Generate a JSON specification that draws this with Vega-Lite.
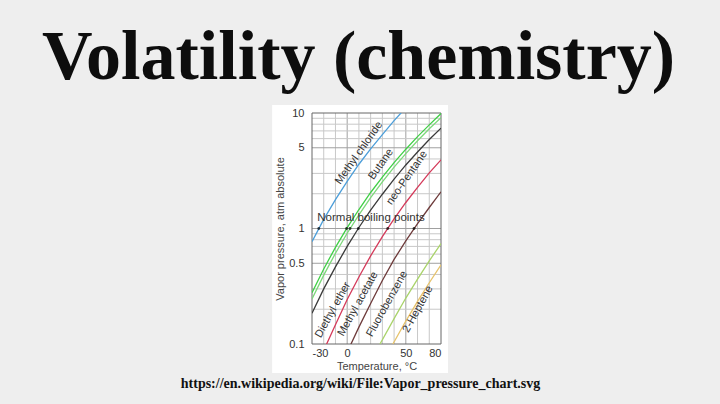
{
  "$schema": "https://vega.github.io/schema/vega-lite/v6.json",
  "width": 129,
  "height": 231,
  "autosize": {"type": "none"},
  "padding": {"left": 312, "top": 113, "right": 279, "bottom": 60},
  "background": "#eeeeee",
  "config": {"view": {"stroke": null}, "font": "Liberation Sans"},
  "title": {
    "text": "Volatility (chemistry)",
    "font": "Liberation Serif",
    "fontSize": 70,
    "fontWeight": "bold",
    "color": "#0d0d0d",
    "anchor": "middle",
    "frame": "group",
    "dx": -18,
    "offset": 11
  },
  "datasets": {
    "curves": [
      {"name": "Methyl chloride", "T": -30, "P": 0.77},
      {"name": "Methyl chloride", "T": -20, "P": 1.2},
      {"name": "Methyl chloride", "T": -10, "P": 1.78},
      {"name": "Methyl chloride", "T": 0, "P": 2.56},
      {"name": "Methyl chloride", "T": 10, "P": 3.6},
      {"name": "Methyl chloride", "T": 20, "P": 4.9},
      {"name": "Methyl chloride", "T": 30, "P": 6.5},
      {"name": "Methyl chloride", "T": 40, "P": 8.6},
      {"name": "Methyl chloride", "T": 50, "P": 11.1},
      {"name": "Butane", "T": -30, "P": 0.278},
      {"name": "Butane", "T": -20, "P": 0.446},
      {"name": "Butane", "T": -10, "P": 0.687},
      {"name": "Butane", "T": 0, "P": 1.018},
      {"name": "Butane", "T": 10, "P": 1.46},
      {"name": "Butane", "T": 20, "P": 2.05},
      {"name": "Butane", "T": 30, "P": 2.79},
      {"name": "Butane", "T": 40, "P": 3.72},
      {"name": "Butane", "T": 50, "P": 4.86},
      {"name": "Butane", "T": 60, "P": 6.24},
      {"name": "Butane", "T": 70, "P": 7.89},
      {"name": "Butane", "T": 80, "P": 9.9},
      {"name": "Butane 2", "T": -30, "P": 0.245},
      {"name": "Butane 2", "T": -20, "P": 0.395},
      {"name": "Butane 2", "T": -10, "P": 0.61},
      {"name": "Butane 2", "T": 0, "P": 0.91},
      {"name": "Butane 2", "T": 10, "P": 1.31},
      {"name": "Butane 2", "T": 20, "P": 1.85},
      {"name": "Butane 2", "T": 30, "P": 2.53},
      {"name": "Butane 2", "T": 40, "P": 3.4},
      {"name": "Butane 2", "T": 50, "P": 4.45},
      {"name": "Butane 2", "T": 60, "P": 5.75},
      {"name": "Butane 2", "T": 70, "P": 7.3},
      {"name": "Butane 2", "T": 80, "P": 9.1},
      {"name": "neo-Pentane", "T": -30, "P": 0.185},
      {"name": "neo-Pentane", "T": -20, "P": 0.3},
      {"name": "neo-Pentane", "T": -10, "P": 0.465},
      {"name": "neo-Pentane", "T": 0, "P": 0.7},
      {"name": "neo-Pentane", "T": 10, "P": 1.02},
      {"name": "neo-Pentane", "T": 20, "P": 1.44},
      {"name": "neo-Pentane", "T": 30, "P": 1.98},
      {"name": "neo-Pentane", "T": 40, "P": 2.68},
      {"name": "neo-Pentane", "T": 50, "P": 3.55},
      {"name": "neo-Pentane", "T": 60, "P": 4.6},
      {"name": "neo-Pentane", "T": 70, "P": 5.9},
      {"name": "neo-Pentane", "T": 80, "P": 7.4},
      {"name": "Diethyl ether", "T": -25, "P": 0.065},
      {"name": "Diethyl ether", "T": -20, "P": 0.088},
      {"name": "Diethyl ether", "T": -10, "P": 0.147},
      {"name": "Diethyl ether", "T": 0, "P": 0.243},
      {"name": "Diethyl ether", "T": 10, "P": 0.38},
      {"name": "Diethyl ether", "T": 20, "P": 0.58},
      {"name": "Diethyl ether", "T": 30, "P": 0.85},
      {"name": "Diethyl ether", "T": 40, "P": 1.21},
      {"name": "Diethyl ether", "T": 50, "P": 1.68},
      {"name": "Diethyl ether", "T": 60, "P": 2.27},
      {"name": "Diethyl ether", "T": 70, "P": 3.03},
      {"name": "Diethyl ether", "T": 80, "P": 3.93},
      {"name": "Methyl acetate", "T": -5, "P": 0.063},
      {"name": "Methyl acetate", "T": 0, "P": 0.085},
      {"name": "Methyl acetate", "T": 10, "P": 0.14},
      {"name": "Methyl acetate", "T": 20, "P": 0.224},
      {"name": "Methyl acetate", "T": 30, "P": 0.355},
      {"name": "Methyl acetate", "T": 40, "P": 0.54},
      {"name": "Methyl acetate", "T": 50, "P": 0.78},
      {"name": "Methyl acetate", "T": 60, "P": 1.1},
      {"name": "Methyl acetate", "T": 70, "P": 1.52},
      {"name": "Methyl acetate", "T": 80, "P": 2.08},
      {"name": "Fluorobenzene", "T": 20, "P": 0.072},
      {"name": "Fluorobenzene", "T": 28, "P": 0.1},
      {"name": "Fluorobenzene", "T": 40, "P": 0.166},
      {"name": "Fluorobenzene", "T": 50, "P": 0.25},
      {"name": "Fluorobenzene", "T": 60, "P": 0.365},
      {"name": "Fluorobenzene", "T": 70, "P": 0.525},
      {"name": "Fluorobenzene", "T": 80, "P": 0.74},
      {"name": "2-Heptene", "T": 30, "P": 0.064},
      {"name": "2-Heptene", "T": 39, "P": 0.1},
      {"name": "2-Heptene", "T": 50, "P": 0.158},
      {"name": "2-Heptene", "T": 60, "P": 0.234},
      {"name": "2-Heptene", "T": 70, "P": 0.339},
      {"name": "2-Heptene", "T": 80, "P": 0.485}
    ],
    "boiling": [
      {"name": "Methyl chloride", "T": -24.2, "P": 1},
      {"name": "Butane", "T": -0.5, "P": 1},
      {"name": "Butane 2", "T": 2.4, "P": 1},
      {"name": "neo-Pentane", "T": 9.5, "P": 1},
      {"name": "Diethyl ether", "T": 34.6, "P": 1},
      {"name": "Methyl acetate", "T": 57, "P": 1}
    ],
    "labels": [
      {"name": "Methyl chloride", "T": 10.1, "P": 4.5, "group": "upper"},
      {"name": "Butane", "T": 28.8, "P": 3.6, "group": "upper"},
      {"name": "neo-Pentane", "T": 51, "P": 2.74, "group": "upper"},
      {"name": "Diethyl ether", "T": -12.1, "P": 0.197, "group": "lower"},
      {"name": "Methyl acetate", "T": 9.2, "P": 0.222, "group": "lower"},
      {"name": "Fluorobenzene", "T": 34, "P": 0.222, "group": "lower"},
      {"name": "2-Heptene", "T": 60.4, "P": 0.2, "group": "lower"}
    ],
    "gridT": [
      {"T": -20, "major": false}, {"T": -10, "major": false}, {"T": 0, "major": true},
      {"T": 10, "major": false}, {"T": 20, "major": false}, {"T": 30, "major": false},
      {"T": 40, "major": false}, {"T": 50, "major": true}, {"T": 60, "major": false},
      {"T": 70, "major": false}
    ],
    "gridP": [
      {"P": 0.2, "major": false}, {"P": 0.3, "major": false}, {"P": 0.4, "major": false},
      {"P": 0.5, "major": true}, {"P": 0.6, "major": false}, {"P": 0.7, "major": false},
      {"P": 0.8, "major": false}, {"P": 0.9, "major": false}, {"P": 1, "major": true},
      {"P": 2, "major": false}, {"P": 3, "major": false}, {"P": 4, "major": false},
      {"P": 5, "major": true}, {"P": 6, "major": false}, {"P": 7, "major": false},
      {"P": 8, "major": false}, {"P": 9, "major": false}
    ]
  },
  "layer": [
    {
      "data": {"values": [{}]},
      "mark": {"type": "rect", "color": "#ffffff"},
      "encoding": {
        "x": {"datum": -64, "type": "quantitative", "scale": {"domain": [-30, 80], "nice": false, "zero": false}},
        "x2": {"datum": 86},
        "y": {"datum": 0.056, "type": "quantitative", "scale": {"type": "log", "domain": [0.1, 10], "nice": false}},
        "y2": {"datum": 11.7}
      }
    },
    {
      "data": {"name": "gridT"},
      "mark": {"type": "rule", "strokeWidth": 1},
      "encoding": {
        "x": {"field": "T", "type": "quantitative", "scale": {"domain": [-30, 80], "nice": false, "zero": false}},
        "color": {"condition": {"test": "datum.major", "value": "#a0a0a0"}, "value": "#c8c8c8"}
      }
    },
    {
      "data": {"name": "gridP"},
      "mark": {"type": "rule", "strokeWidth": 1},
      "encoding": {
        "y": {"field": "P", "type": "quantitative", "scale": {"type": "log", "domain": [0.1, 10], "nice": false}},
        "color": {"condition": {"test": "datum.major", "value": "#a0a0a0"}, "value": "#c8c8c8"}
      }
    },
    {
      "data": {"values": [{}]},
      "mark": {"type": "rect", "fill": null, "stroke": "#666666", "strokeWidth": 1},
      "encoding": {
        "x": {"datum": -30, "type": "quantitative", "scale": {"domain": [-30, 80], "nice": false, "zero": false}},
        "x2": {"datum": 80},
        "y": {"datum": 0.1, "type": "quantitative", "scale": {"type": "log", "domain": [0.1, 10], "nice": false}},
        "y2": {"datum": 10}
      }
    },
    {
      "data": {"name": "curves"},
      "mark": {"type": "line", "clip": true, "strokeWidth": 1.3},
      "encoding": {
        "x": {
          "field": "T", "type": "quantitative",
          "scale": {"domain": [-30, 80], "nice": false, "zero": false},
          "axis": {
            "title": "Temperature, °C",
            "values": [-30, 0, 50, 80],
            "labelExpr": "replace(datum.label, '−', '-')",
            "labelOverlap": false,
            "grid": false,
            "zindex": 1,
            "ticks": false, "domain": false,
            "labelFont": "Liberation Sans", "labelFontSize": 11, "labelColor": "#333333", "labelPadding": 3,
            "titleFont": "Liberation Sans", "titleFontSize": 11, "titleFontWeight": "normal", "titleColor": "#444444", "titlePadding": 2
          }
        },
        "y": {
          "field": "P", "type": "quantitative",
          "scale": {"type": "log", "domain": [0.1, 10], "nice": false},
          "axis": {
            "title": "Vapor pressure, atm absolute",
            "values": [0.1, 0.5, 1, 5, 10],
            "format": "~g",
            "labelOverlap": false,
            "grid": false,
            "zindex": 1,
            "ticks": false, "domain": false,
            "labelFont": "Liberation Sans", "labelFontSize": 11, "labelColor": "#333333", "labelPadding": 8,
            "titleFont": "Liberation Sans", "titleFontSize": 11, "titleFontWeight": "normal", "titleColor": "#444444", "titlePadding": 3
          }
        },
        "color": {
          "field": "name", "type": "nominal", "legend": null,
          "scale": {
            "domain": ["Methyl chloride", "Butane", "Butane 2", "neo-Pentane", "Diethyl ether", "Methyl acetate", "Fluorobenzene", "2-Heptene"],
            "range": ["#4c9ed9", "#3fcf45", "#7cd87a", "#3a3a3a", "#d43a5a", "#6e3b3b", "#a9d36a", "#e6c36c"]
          }
        }
      }
    },
    {
      "data": {"name": "boiling"},
      "mark": {"type": "point", "filled": true, "size": 8, "color": "#000000"},
      "encoding": {
        "x": {"field": "T", "type": "quantitative", "scale": {"domain": [-30, 80], "nice": false, "zero": false}},
        "y": {"field": "P", "type": "quantitative", "scale": {"type": "log", "domain": [0.1, 10], "nice": false}}
      }
    },
    {
      "data": {"name": "labels"},
      "transform": [{"filter": "datum.group == 'upper'"}],
      "mark": {"type": "text", "angle": -55, "fontSize": 11, "font": "Liberation Sans", "color": "#333333"},
      "encoding": {
        "x": {"field": "T", "type": "quantitative", "scale": {"domain": [-30, 80], "nice": false, "zero": false}},
        "y": {"field": "P", "type": "quantitative", "scale": {"type": "log", "domain": [0.1, 10], "nice": false}},
        "text": {"field": "name"}
      }
    },
    {
      "data": {"name": "labels"},
      "transform": [{"filter": "datum.group == 'lower'"}],
      "mark": {"type": "text", "angle": -61, "fontSize": 11, "font": "Liberation Sans", "color": "#333333"},
      "encoding": {
        "x": {"field": "T", "type": "quantitative", "scale": {"domain": [-30, 80], "nice": false, "zero": false}},
        "y": {"field": "P", "type": "quantitative", "scale": {"type": "log", "domain": [0.1, 10], "nice": false}},
        "text": {"field": "name"}
      }
    },
    {
      "data": {"values": [{}]},
      "mark": {"type": "text", "fontSize": 11.5, "font": "Liberation Sans", "color": "#333333", "text": "Normal boiling points"},
      "encoding": {
        "x": {"datum": 20.3, "type": "quantitative", "scale": {"domain": [-30, 80], "nice": false, "zero": false}},
        "y": {"datum": 1.245, "type": "quantitative", "scale": {"type": "log", "domain": [0.1, 10], "nice": false}}
      }
    },
    {
      "data": {"values": [{}]},
      "mark": {"type": "text", "fontSize": 14, "font": "Liberation Serif", "fontWeight": "bold", "color": "#111111", "baseline": "alphabetic", "text": "https://en.wikipedia.org/wiki/File:Vapor_pressure_chart.svg"},
      "encoding": {
        "x": {"datum": 11.36, "type": "quantitative", "scale": {"domain": [-30, 80], "nice": false, "zero": false}},
        "y": {"datum": 0.0416, "type": "quantitative", "scale": {"type": "log", "domain": [0.1, 10], "nice": false}}
      }
    }
  ]
}
